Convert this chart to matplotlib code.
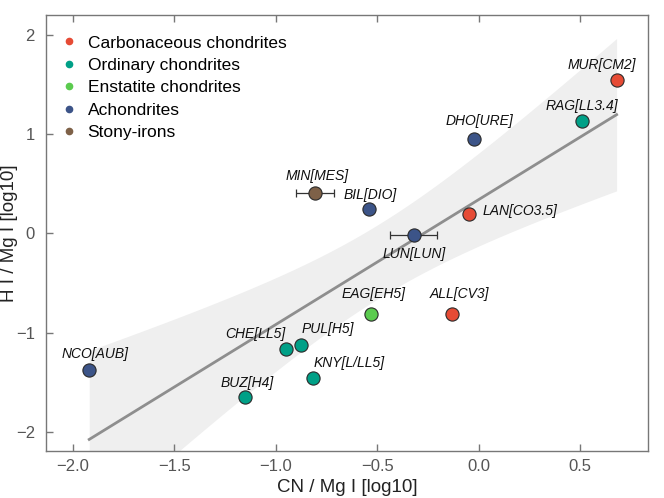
import numpy as np
import matplotlib
matplotlib.use("Agg")
import matplotlib.pyplot as plt

plt.rcParams['font.family'] = ['Liberation Sans', 'DejaVu Sans']

names = ["MUR[CM2]", "RAG[LL3.4]", "DHO[URE]", "BIL[DIO]", "LAN[CO3.5]", "LUN[LUN]",
         "MIN[MES]", "EAG[EH5]", "ALL[CV3]", "NCO[AUB]", "CHE[LL5]", "PUL[H5]",
         "KNY[L/LL5]", "BUZ[H4]"]
groups = ["Carbonaceous chondrites", "Ordinary chondrites", "Achondrites", "Achondrites",
          "Carbonaceous chondrites", "Achondrites", "Stony-irons", "Enstatite chondrites",
          "Carbonaceous chondrites", "Achondrites", "Ordinary chondrites", "Ordinary chondrites",
          "Ordinary chondrites", "Ordinary chondrites"]
cn_mg = [0.68, 0.507, -0.023, -0.54, -0.05, -0.32, -0.808, -0.53, -0.13, -1.92, -0.95,
         -0.875, -0.816, -1.15]
hi_mg = [1.54, 1.13, 0.95, 0.25, 0.20, -0.02, 0.41, -0.815, -0.815, -1.37, -1.165,
         -1.12, -1.46, -1.65]
cn_err = [0, 0, 0, 0, 0, 0.115, 0.095, 0, 0, 0, 0, 0, 0, 0]

group_order = ["Carbonaceous chondrites", "Ordinary chondrites", "Enstatite chondrites",
               "Achondrites", "Stony-irons"]
group_colors = ["#E64B35", "#00A087", "#5BCB4F", "#3C5488", "#7E6148"]

# label placement (offset in points, ha, va)
label_pos = {
    "MUR[CM2]": (-11, 6, "center", "bottom"),
    "RAG[LL3.4]": (0, 6, "center", "bottom"),
    "DHO[URE]": (4, 8, "center", "bottom"),
    "BIL[DIO]": (1, 5, "center", "bottom"),
    "LAN[CO3.5]": (10, 2, "left", "center"),
    "LUN[LUN]": (0, -8, "center", "top"),
    "MIN[MES]": (2, 7, "center", "bottom"),
    "EAG[EH5]": (2, 10, "center", "bottom"),
    "ALL[CV3]": (5, 10, "center", "bottom"),
    "NCO[AUB]": (4, 6, "center", "bottom"),
    "CHE[LL5]": (0, 6, "right", "bottom"),
    "PUL[H5]": (0, 6.5, "left", "bottom"),
    "KNY[L/LL5]": (0, 6, "left", "bottom"),
    "BUZ[H4]": (1, 5, "center", "bottom"),
}

x = np.array(cn_mg)
y = np.array(hi_mg)
n = len(x)
slope, intercept = np.polyfit(x, y, 1)
xs = np.linspace(x.min(), x.max(), 200)
yfit = intercept + slope * xs
resid = y - (intercept + slope * x)
s = np.sqrt(np.sum(resid ** 2) / (n - 2))
sxx = np.sum((x - x.mean()) ** 2)
t_val = 2.179  # t(0.975, df=12)
half = t_val * s * np.sqrt(1.0 / n + (xs - x.mean()) ** 2 / sxx)

fig = plt.figure(figsize=(6.64, 4.98), dpi=100)
ax = fig.add_axes([0.0693, 0.0944, 0.9067, 0.8756])

ax.fill_between(xs, yfit - half, yfit + half, color="#efefef", lw=0, zorder=1)
ax.plot(xs, yfit, color="#8e8e8e", lw=2, zorder=2)

cmap = dict(zip(group_order, group_colors))
for xi, yi, e, nm, g in zip(cn_mg, hi_mg, cn_err, names, groups):
    if e > 0:
        ax.errorbar(xi, yi, xerr=e, fmt="none", ecolor="#333333", elinewidth=0.9,
                    capsize=3, capthick=0.9, zorder=3)
    ax.plot(xi, yi, "o", ms=9.5, mfc=cmap[g], mec="#2a2a2a", mew=0.8, zorder=4)
    dx, dy, ha, va = label_pos[nm]
    ax.annotate(nm, (xi, yi), xytext=(dx, dy), textcoords="offset points",
                ha=ha, va=va, fontsize=10, style="italic", color="#111111", zorder=5)

for g, c in zip(group_order, group_colors):
    ax.plot([], [], "o", ms=4.5, color=c, label=g)
leg = ax.legend(loc="upper left", frameon=False, fontsize=12.5, handlelength=1.0,
                handletextpad=0.6, labelspacing=0.42, borderaxespad=0.4,
                bbox_to_anchor=(0.0, 0.985))

ax.set_xlim(-2.133, 0.835)
ax.set_ylim(-2.19, 2.2)
ax.set_xticks([-2.0, -1.5, -1.0, -0.5, 0.0, 0.5])
ax.set_xticklabels(["\u22122.0", "\u22121.5", "\u22121.0", "\u22120.5", "0.0", "0.5"])
ax.set_yticks([-2, -1, 0, 1, 2])
ax.set_yticklabels(["\u22122", "\u22121", "0", "1", "2"])
ax.tick_params(axis="both", direction="in", labelsize=12, colors="#777777",
               labelcolor="#555555", length=5, width=1)
ax.tick_params(axis="x", top=True, bottom=True, pad=6)
ax.tick_params(axis="y", left=True, right=False, pad=8)
for sp in ax.spines.values():
    sp.set_color("#777777")
    sp.set_linewidth(1)

ax.set_xlabel("CN / Mg I [log10]", fontsize=13.5, color="#222222")
ax.set_ylabel("H I / Mg I [log10]", fontsize=13.5, color="#222222")
ax.xaxis.set_label_coords(0.5, -0.083)
ax.xaxis.label.set_va("center")
ax.yaxis.set_label_coords(-0.060, 0.5)
ax.yaxis.label.set_va("center")

fig.savefig("out.png", dpi=100)
